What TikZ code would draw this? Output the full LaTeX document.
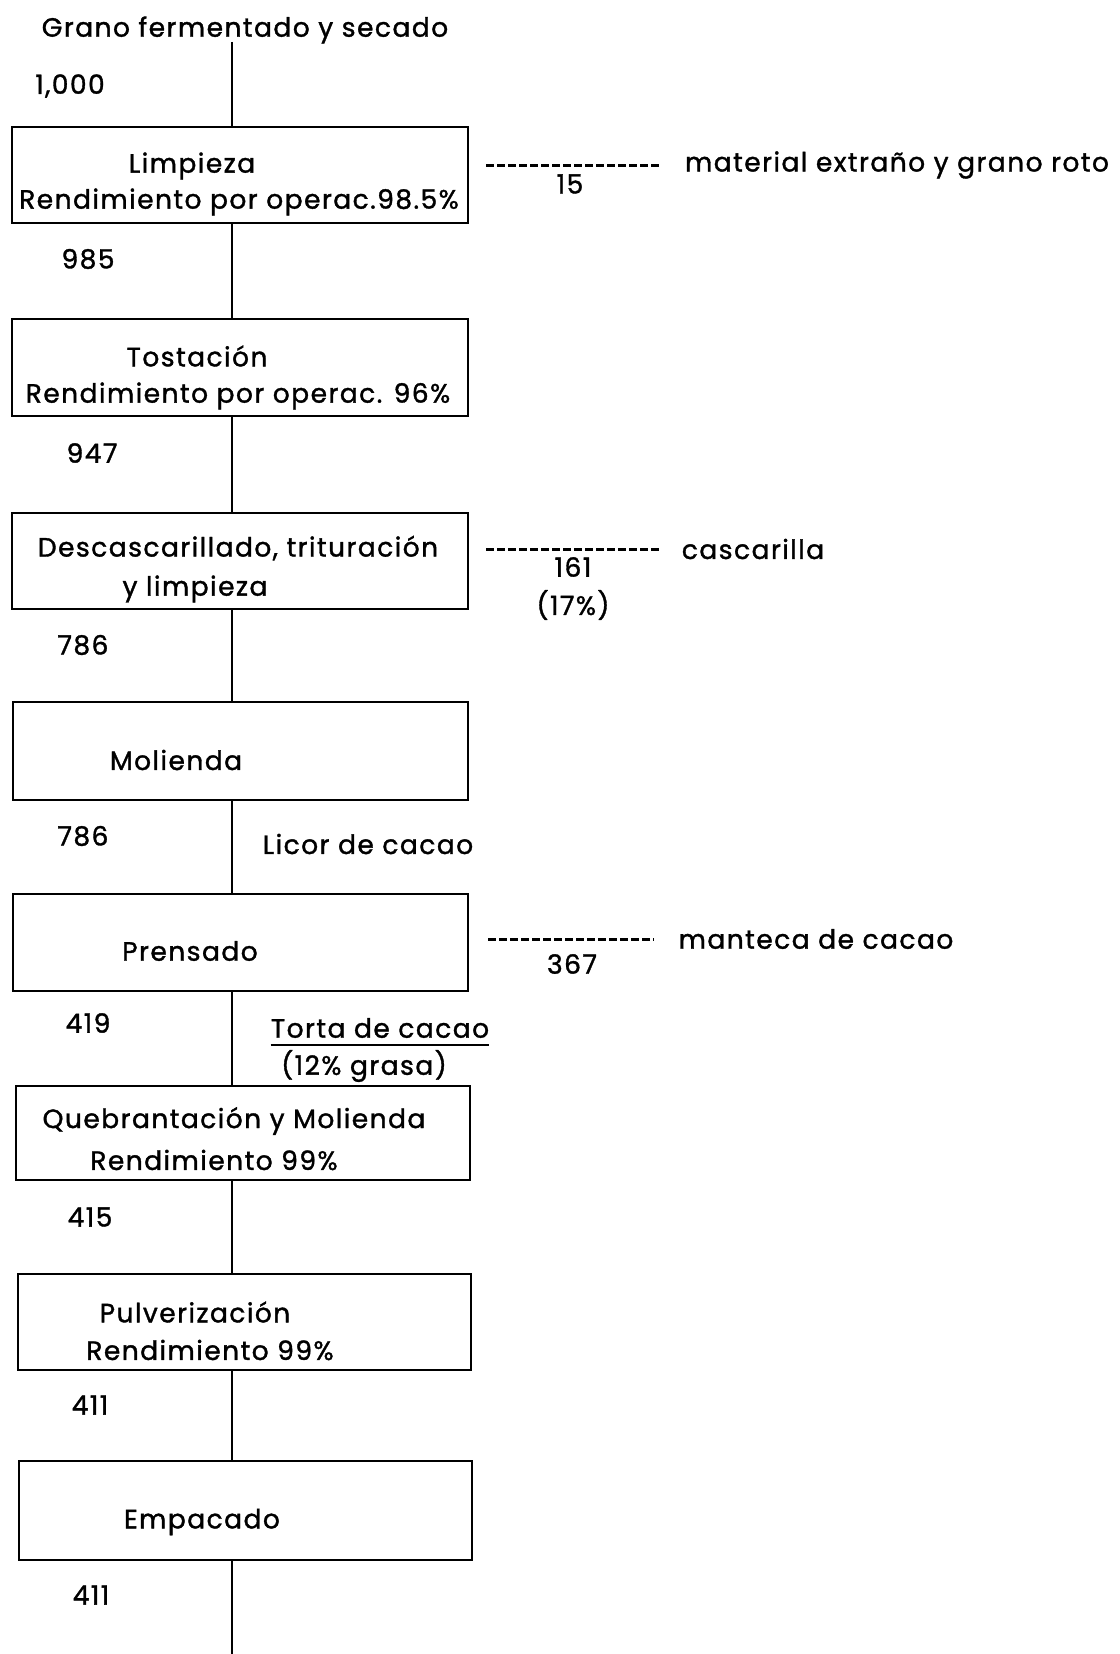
\documentclass[tikz,border=0pt]{standalone}
\usepackage{fontspec}
\setmainfont{Poppins}[LetterSpace=5.5, FakeBold=1.3]
\begin{document}
\begin{tikzpicture}[x=1pt,y=-1pt,
  box/.style={draw, line width=2.8pt, inner sep=0pt},
  lbl/.style={inner sep=0pt, font=\fontsize{26.5}{30}\selectfont},
  flow/.style={line width=2.8pt},
  dashline/.style={line width=3pt, dash pattern=on 8pt off 3pt}]
\useasboundingbox (0,0) rectangle (1119,1654);
\fill[white] (0,0) rectangle (1119,1654);
\coordinate (axis) at (232,0);

% input
\node[lbl] (grano) at (245,30) {Grano fermentado y secado};
\coordinate (top) at (232,42);
\node[lbl] (n1000) at (70,86) {1,000};

% boxes
\node[box, minimum width=456pt, minimum height=96pt] (b1) at (240,175) {};
\node[box, minimum width=456pt, minimum height=97pt] (b2) at (240,367.5) {};
\node[box, minimum width=456pt, minimum height=96pt] (b3) at (240,561) {};
\node[box, minimum width=455pt, minimum height=98pt] (b4) at (240.5,751) {};
\node[box, minimum width=455pt, minimum height=97pt] (b5) at (240.5,942.5) {};
\node[box, minimum width=454pt, minimum height=94pt] (b6) at (243,1133) {};
\node[box, minimum width=453pt, minimum height=96pt] (b7) at (244.5,1322) {};
\node[box, minimum width=453pt, minimum height=99pt] (b8) at (245.5,1510.5) {};

% box texts
\node[lbl] (b1a) at (192,166) {Limpieza};
\node[lbl] (b1b) at (239,202) {Rendimiento por operac.98.5\%};
\node[lbl] (b2a) at (197,356) {Tostación};
\node[lbl] (b2b) at (238,396) {Rendimiento por operac. 96\%};
\node[lbl] (b3a) at (238,548) {Descascarillado, trituración};
\node[lbl] (b3b) at (195,589) {y limpieza};
\node[lbl] (b4a) at (176,760) {Molienda};
\node[lbl] (b5a) at (190,951) {Prensado};
\node[lbl] (b6a) at (234,1121) {Quebrantación y Molienda};
\node[lbl] (b6b) at (214,1160) {Rendimiento 99\%};
\node[lbl] (b7a) at (195,1312) {Pulverización};
\node[lbl] (b7b) at (210,1350) {Rendimiento 99\%};
\node[lbl] (b8a) at (202,1522) {Empacado};

% flow quantities
\node[lbl] (q1) at (88,259) {985};
\node[lbl] (q2) at (92,453) {947};
\node[lbl] (q3) at (83,645) {786};
\node[lbl] (q4) at (83,836) {786};
\node[lbl] (q5) at (88,1023) {419};
\node[lbl] (q6) at (90,1217) {415};
\node[lbl] (q7) at (90,1405) {411};
\node[lbl] (q8) at (91,1595) {411};

% flow side labels
\node[lbl] (licor) at (368,844) {Licor de cacao};
\node[lbl] (torta) at (380,1028) {Torta de cacao};
\node[lbl] (grasa) at (364,1066) {(12\% grasa)};
\draw[line width=2.2pt] ([yshift=-7pt]torta.south west) -- ([yshift=-7pt]torta.south east);

% side outputs
\node[lbl] (mat) at (897,165) {material extraño y grano roto};
\node[lbl] (s1) at (570,184) {15};
\node[lbl] (casc) at (753,549) {cascarilla};
\node[lbl] (s2) at (573,567) {161};
\node[lbl] (s2p) at (573,605) {(17\%)};
\node[lbl] (mant) at (816,939) {manteca de cacao};
\node[lbl] (s3) at (572,964) {367};

\draw[dashline] ([xshift=17pt]b1.east |- mat.west) -- ([xshift=-24pt]mat.west);
\draw[dashline] ([xshift=17pt]b3.east |- casc.west) -- ([xshift=-23pt]casc.west);
\draw[dashline] ([xshift=19pt]b5.east |- mant.west) -- ([xshift=-24pt]mant.west);

% main flow line
\draw[flow] (top) -- (b1.north -| axis);
\draw[flow] (b1.south -| axis) -- (b2.north -| axis);
\draw[flow] (b2.south -| axis) -- (b3.north -| axis);
\draw[flow] (b3.south -| axis) -- (b4.north -| axis);
\draw[flow] (b4.south -| axis) -- (b5.north -| axis);
\draw[flow] (b5.south -| axis) -- (b6.north -| axis);
\draw[flow] (b6.south -| axis) -- (b7.north -| axis);
\draw[flow] (b7.south -| axis) -- (b8.north -| axis);
\coordinate (bottom) at (232,1654);
\draw[flow] (b8.south -| axis) -- (bottom);
\end{tikzpicture}
\end{document}
